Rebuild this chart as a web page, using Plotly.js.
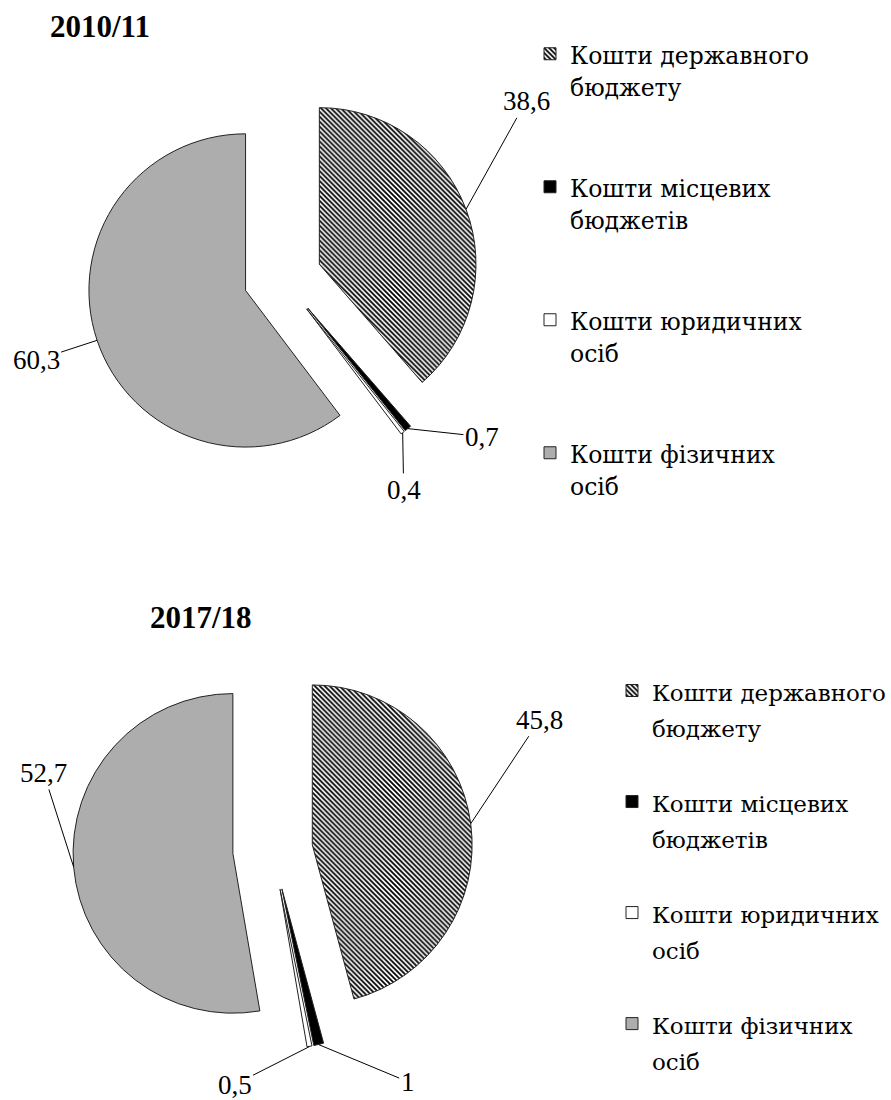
<!DOCTYPE html>
<html>
<head>
<meta charset="utf-8">
<script src="https://cdn.plot.ly/plotly-3.0.1.min.js"></script>
<style>html,body{margin:0;padding:0;background:#fff;}#chart{width:891px;height:1100px;}</style>
</head>
<body>
<div id="chart"></div>
<script>
// ---- data ----
var categories = ["Кошти державного<br>бюджету", "Кошти місцевих<br>бюджетів", "Кошти юридичних<br>осіб", "Кошти фізичних<br>осіб"];
var years = ["2010/11", "2017/18"];
var values2010 = [38.6, 0.7, 0.4, 60.3];
var values2017 = [45.8, 1, 0.5, 52.7];

// ---- style ----
var W = 891, H = 1100;
var FONT = "Liberation Serif, serif";
var LEGEND_FONT = "DejaVu Serif";
var sliceColors = ["#ffffff", "#000000", "#ffffff", "#adadad"];
var patternShapes = ["\\", "", "", ""];
var PULL = 0.25;
var dom1 = {x: [87 / W, 479 / W], y: [1 - 474 / H, 1 - 82 / H]};
var dom2 = {x: [73 / W, 473 / W], y: [1 - 1050 / H, 1 - 650 / H]};

// legend entry text: visible text size set per line, extra blank lines give entry spacing
function legendLabels(cats, textSize, blankLines) {
  return cats.map(function (c, i) {
    var lines = c.split("<br>").map(function (s) {
      return '<span style="font-size:' + textSize + 'px">' + s + '</span>';
    });
    var txt = lines.join("<br>");
    if (i < cats.length - 1) {
      for (var k = 0; k < blankLines; k++) txt += "<br> ";
    }
    return txt;
  });
}

function pieTrace(vals, dom, legendId, labels) {
  return {
    type: "pie",
    values: vals,
    labels: labels,
    sort: false,
    direction: "clockwise",
    rotation: 0,
    pull: vals.map(function () { return PULL; }),
    domain: dom,
    textinfo: "none",
    hoverinfo: "none",
    legend: legendId,
    marker: {
      colors: sliceColors,
      line: {color: "#222222", width: 1},
      pattern: {shape: patternShapes, fgcolor: "#000000", size: 3.5, solidity: 0.5}
    }
  };
}

// anchor point on arc at slice bisector, same geometry as Plotly pie
function anchor(vals, idx, dom) {
  var total = vals.reduce(function (a, b) { return a + b; }, 0);
  var before = 0;
  for (var i = 0; i < idx; i++) before += vals[i];
  var mid = (before + vals[idx] / 2) / total * 2 * Math.PI;
  var wpx = W * (dom.x[1] - dom.x[0]), hpx = H * (dom.y[1] - dom.y[0]);
  var r = Math.min(wpx, hpx) / 2 / (1 + PULL);
  var cx = W * (dom.x[0] + dom.x[1]) / 2;
  var cy = H * (1 - (dom.y[0] + dom.y[1]) / 2);
  var px = cx + (1 + PULL) * r * Math.sin(mid);
  var py = cy - (1 + PULL) * r * Math.cos(mid);
  return {x: px / W, y: 1 - py / H};
}

function fmt(v) { return String(v).replace(".", ","); }

// label offsets (pixels) for each slice label
var offsets2010 = [[60, -108], [74, 8], [1, 57], [-61, 20]];
var offsets2017 = [[69, -104], [89, 37], [-75, 38], [-30, -94]];

var annotations = [];
function addLabels(vals, dom, offs) {
  vals.forEach(function (v, i) {
    var a = anchor(vals, i, dom);
    annotations.push({
      xref: "paper", yref: "paper", x: a.x, y: a.y,
      ax: offs[i][0], ay: offs[i][1],
      text: fmt(v), showarrow: true, arrowhead: 0, arrowwidth: 1,
      arrowcolor: "#000", standoff: 0,
      font: {family: FONT, size: 27, color: "#000"}
    });
  });
}
addLabels(values2010, dom1, offsets2010);
addLabels(values2017, dom2, offsets2017);

annotations.push({xref: "paper", yref: "paper", x: 48 / W, y: 1 - 27 / H, xanchor: "left", yanchor: "middle",
  text: "<b>" + years[0] + "</b>", showarrow: false, font: {family: FONT, size: 31, color: "#000"}});
annotations.push({xref: "paper", yref: "paper", x: 148 / W, y: 1 - 617 / H, xanchor: "left", yanchor: "middle",
  text: "<b>" + years[1] + "</b>", showarrow: false, font: {family: FONT, size: 31, color: "#000"}});

var data = [
  pieTrace(values2010, dom1, "legend", legendLabels(categories, 23.5, 2)),
  pieTrace(values2017, dom2, "legend2", legendLabels(categories, 23, 1))
];

var legendBase = {
  bgcolor: "rgba(0,0,0,0)",
  valign: "top",
  xanchor: "left",
  yanchor: "top"
};

var layout = {
  width: W, height: H,
  margin: {l: 0, r: 0, t: 0, b: 0},
  paper_bgcolor: "#fff",
  showlegend: true,
  separators: ", ",
  font: {family: FONT, color: "#000"},
  legend: Object.assign({}, legendBase, {x: 530 / W, y: 1 - 31 / H, font: {family: LEGEND_FONT, size: 25, color: "#000"}}),
  legend2: Object.assign({}, legendBase, {x: 613 / W, y: 1 - 666 / H, font: {family: LEGEND_FONT, size: 27.7, color: "#000"}}),
  annotations: annotations
};

Plotly.newPlot("chart", data, layout, {displayModeBar: false, staticPlot: true});
</script>
</body>
</html>
